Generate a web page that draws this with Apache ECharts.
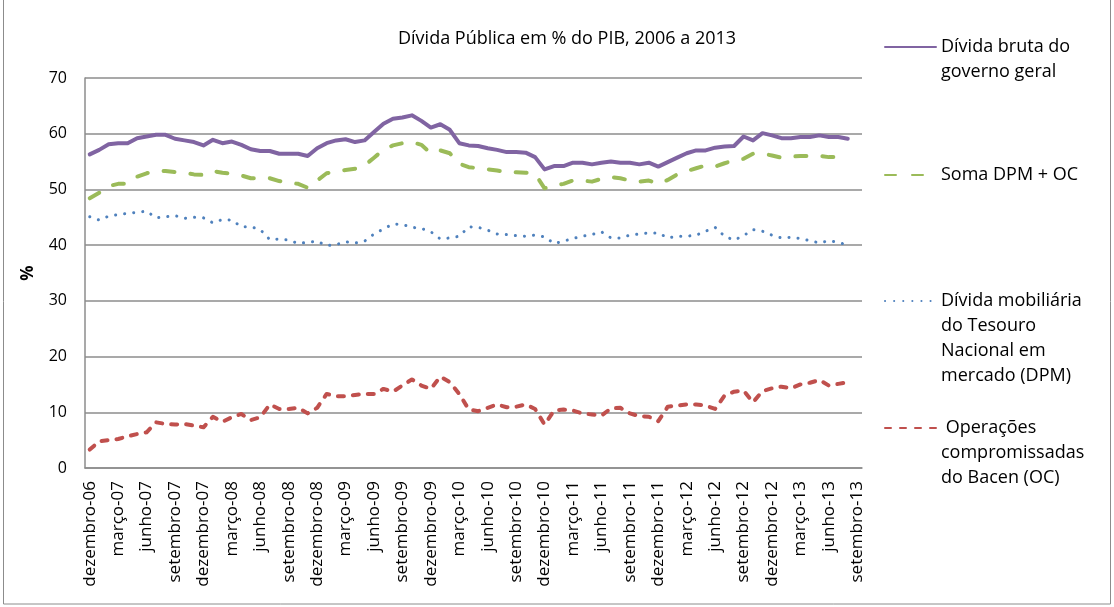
<!DOCTYPE html>
<html>
<head>
<meta charset="utf-8">
<script src="https://cdn.jsdelivr.net/npm/echarts@6/dist/echarts.min.js"></script>
<style>
  html, body { margin: 0; padding: 0; background: #fff; }
  #chart { width: 1114px; height: 607px; }
</style>
</head>
<body>
<div id="chart"></div>
<script>
  var MONTH_NAMES = ['janeiro', 'fevereiro', 'março', 'abril', 'maio', 'junho',
    'julho', 'agosto', 'setembro', 'outubro', 'novembro', 'dezembro'];

  // dezembro-06 .. setembro-13, mensal
  var categories = [];
  for (var y = 2006; y <= 2013; y++) {
    for (var m = 0; m < 12; m++) {
      if (y === 2006 && m < 11) continue;
      if (y === 2013 && m > 8) continue;
      categories.push(MONTH_NAMES[m] + '-' + String(y).slice(2));
    }
  }

  var dividaBruta = [
    56.3, 57.1, 58.1, 58.3, 58.3, 59.2, 59.5, 59.8, 59.8, 59.1,
    58.8, 58.5, 57.9, 58.9, 58.3, 58.6, 58.0, 57.2, 56.9, 56.9,
    56.4, 56.4, 56.4, 56.0, 57.4, 58.3, 58.8, 59.0, 58.5, 58.8,
    60.3, 61.8, 62.7, 62.9, 63.3, 62.3, 61.1, 61.7, 60.7, 58.3,
    57.9, 57.8, 57.4, 57.1, 56.7, 56.7, 56.6, 55.8, 53.6, 54.2,
    54.2, 54.8, 54.8, 54.5, 54.8, 55.0, 54.8, 54.8, 54.5, 54.8,
    54.1, 54.9, 55.7, 56.5, 57.0, 57.0, 57.5, 57.7, 57.8, 59.5,
    58.8, 60.1, 59.7, 59.2, 59.2, 59.4, 59.4, 59.7, 59.4, 59.4,
    59.1, null
  ];

  var somaDpmOc = [
    48.4, 49.4, 50.6, 51.0, 51.0, 52.3, 52.9, 53.3, 53.3, 53.1,
    53.0, 52.7, 52.6, 53.3, 53.0, 52.8, 52.5, 52.0, 52.0, 52.0,
    51.5, 51.2, 51.0, 50.3, 51.6, 52.9, 53.2, 53.5, 53.7, 54.3,
    55.7, 57.1, 57.9, 58.3, 58.5, 58.0, 56.5, 57.0, 56.5, 54.6,
    54.0, 53.8, 53.6, 53.4, 53.1, 53.1, 53.0, 52.8, 50.2, 50.7,
    51.0, 51.6, 51.6, 51.4, 51.9, 52.2, 52.0, 51.6, 51.4, 51.6,
    51.0, 51.7, 52.7, 53.3, 53.8, 54.3, 54.1, 54.7, 55.2, 55.5,
    56.4, 56.4, 56.1, 55.7, 55.9, 56.0, 56.0, 56.0, 55.8, 55.8,
    55.2, null
  ];

  var dpm = [
    45.1, 44.5, 45.2, 45.5, 45.7, 45.9, 46.1, 44.9, 45.1, 45.3,
    44.8, 45.0, 44.9, 44.0, 44.6, 44.5, 43.3, 43.3, 42.8, 41.0,
    41.1, 40.9, 40.3, 40.5, 40.7, 39.9, 40.1, 40.6, 40.4, 40.7,
    42.0, 42.9, 43.8, 43.7, 43.2, 43.0, 42.4, 41.1, 41.3, 41.6,
    43.3, 43.2, 42.7, 42.0, 41.9, 41.7, 41.6, 41.8, 41.5, 40.3,
    40.7, 41.2, 41.6, 41.9, 42.4, 41.3, 41.3, 41.8, 42.0, 42.2,
    42.2, 41.3, 41.6, 41.6, 41.8, 42.5, 43.2, 41.6, 40.9, 41.7,
    42.8, 42.5, 41.8, 41.3, 41.4, 41.2, 40.8, 40.4, 40.8, 40.5,
    40.0, null
  ];

  var oc = [
    3.3, 4.8, 5.0, 5.2, 5.7, 6.1, 6.4, 8.2, 7.9, 7.8,
    7.9, 7.6, 7.3, 9.2, 8.3, 9.1, 9.7, 8.6, 9.1, 11.4,
    10.6, 10.6, 10.8, 9.8, 10.8, 13.3, 12.9, 12.9, 13.1, 13.3,
    13.3, 14.2, 13.7, 14.8, 15.9, 14.8, 14.2, 16.4, 15.4, 13.3,
    10.5, 10.2, 10.8, 11.4, 10.9, 11.0, 11.4, 10.6, 7.8, 10.3,
    10.5, 10.3, 9.8, 9.6, 9.4, 10.7, 10.8, 9.8, 9.3, 9.2,
    8.4, 11.0, 11.2, 11.4, 11.4, 11.2, 10.6, 13.0, 13.7, 13.9,
    11.8, 13.8, 14.3, 14.6, 14.3, 15.0, 15.3, 15.8, 14.8, 15.1,
    15.4, null
  ];

  var yTicks = { min: 0, max: 70, interval: 10 };

  var FONT = '"Open Sans", "Noto Sans", sans-serif';
  var GRID_COLOR = '#8c8c8c';
  var LINE_H = 25;

  var seriesDefs = [
    { name: 'Dívida bruta do\ngoverno geral', data: dividaBruta, color: '#8064A2',
      width: 4, type: 'solid', lines: 2, top: 4.5 },
    { name: 'Soma DPM + OC', data: somaDpmOc, color: '#9BBB59',
      width: 4, type: [11, 16], lines: 1, top: 157.5 },
    { name: 'Dívida mobiliária\ndo Tesouro\nNacional em\nmercado (DPM)', data: dpm, color: '#4F81BD',
      width: 3, type: [0.1, 9], lines: 4, top: 208.5 },
    { name: ' Operações\ncompromissadas\ndo Bacen (OC)', data: oc, color: '#C0504D',
      width: 4, type: [6, 9], lines: 3, top: 360.5 }
  ];

  function blankLines(n) {
    var s = '';
    for (var i = 0; i < n; i++) s += '\n';
    return s;
  }

  var chart = echarts.init(document.getElementById('chart'), null, { renderer: 'canvas' });

  var option = {
    backgroundColor: '#fff',
    animation: false,
    title: {
      text: 'Dívida Pública em % do PIB, 2006 a 2013',
      left: 393,
      top: 25,
      textStyle: { fontFamily: FONT, fontSize: 18, fontWeight: 'normal', color: '#000' }
    },
    // one legend per series so the icon lines up with the first text line
    legend: seriesDefs.map(function (s) {
      return {
        data: [s.name],
        orient: 'vertical',
        left: 879,
        top: s.top,
        itemWidth: 51,
        itemHeight: 14,
        selectedMode: false,
        itemStyle: { opacity: 0 },
        formatter: function (name) {
          return blankLines(s.lines - 1) + name;
        },
        textStyle: {
          fontFamily: FONT,
          fontSize: 18,
          color: '#000',
          lineHeight: LINE_H
        }
      };
    }),
    grid: { left: 85, right: 252, top: 78, bottom: 139, containLabel: false },
    xAxis: {
      type: 'category',
      data: categories,
      boundaryGap: true,
      axisLine: { lineStyle: { color: GRID_COLOR, width: 1.5 } },
      axisTick: { show: false },
      axisLabel: {
        interval: 2,
        rotate: 90,
        margin: 13,
        fontFamily: FONT,
        fontSize: 17,
        color: '#000'
      }
    },
    yAxis: {
      type: 'value',
      min: yTicks.min,
      max: yTicks.max,
      interval: yTicks.interval,
      name: '%',
      nameLocation: 'middle',
      nameRotate: 90,
      nameGap: 48,
      nameTextStyle: { fontFamily: FONT, fontSize: 17, fontWeight: 'bold', color: '#000' },
      axisLine: { show: true, lineStyle: { color: GRID_COLOR, width: 1.5 } },
      axisTick: { show: false },
      axisLabel: { margin: 18, fontFamily: FONT, fontSize: 16, color: '#000' },
      splitLine: { lineStyle: { color: GRID_COLOR, width: 1.5 } }
    },
    series: seriesDefs.map(function (s) {
      return {
        name: s.name,
        type: 'line',
        data: s.data,
        symbol: 'none',
        smooth: false,
        z: 3,
        color: s.color,
        lineStyle: { color: s.color, width: s.width, type: s.type, cap: 'round', join: 'round' }
      };
    }),
    graphic: [{
      type: 'rect',
      shape: { x: 3.5, y: -2, width: 1107, height: 606 },
      style: { fill: 'none', stroke: '#8c8c8c', lineWidth: 1 },
      silent: true
    }]
  };

  chart.setOption(option);
</script>
</body>
</html>
